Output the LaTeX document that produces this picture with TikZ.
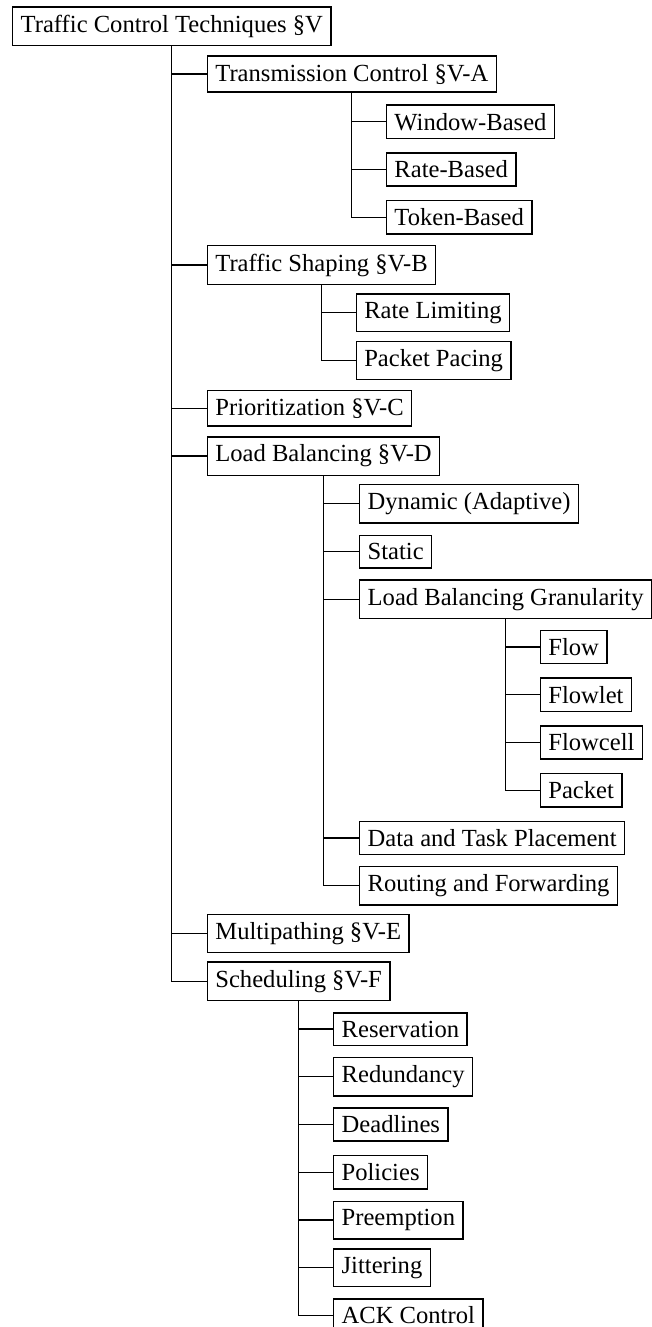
\documentclass[tikz,border=0pt]{standalone}
\usepackage{fontspec}
\setmainfont{Liberation Serif}
\usepackage{tikz}
\tikzstyle{NodeTree}=[draw,line width=0.6pt,anchor=west,inner sep=0.3333em,
font=\fontsize{10.25pt}{12pt}\selectfont]
\tikzstyle{EdgeTree}=[line width=0.5pt]
\begin{document}
\begin{tikzpicture}[x=0.4167pt,y=-19.9pt]
        \useasboundingbox(0,-0.551)rectangle(652,27.24);
        \node[NodeTree](tct)at(12,0){Traffic Control Techniques §V};
        \node[NodeTree](tc)at(206.7,1){Transmission Control §V-A};
        \node[NodeTree](wb)at(385.8,2){Window-Based};
        \node[NodeTree](rb)at(385.8,3){Rate-Based};
        \node[NodeTree](tb)at(385.8,4){Token-Based};
        \node[NodeTree](ts)at(206.7,5){Traffic Shaping §V-B};
        \node[NodeTree](rl)at(355.6,6){Rate Limiting};
        \node[NodeTree](pp)at(355.6,7){Packet Pacing};
        \node[NodeTree](pr)at(206.7,8){Prioritization §V-C};
        \node[NodeTree](lb)at(206.7,9){Load Balancing §V-D};
        \node[NodeTree](dy)at(359,10){Dynamic (Adaptive)};
        \node[NodeTree](st)at(359,11){Static};
        \node[NodeTree](lbg)at(359,12){Load Balancing Granularity};
        \node[NodeTree](fl)at(539.7,13){Flow};
        \node[NodeTree](flt)at(539.7,14){Flowlet};
        \node[NodeTree](flc)at(539.7,15){Flowcell};
        \node[NodeTree](pk)at(539.7,16){Packet};
        \node[NodeTree](dtp)at(359,17){Data and Task Placement};
        \node[NodeTree](rf)at(359,18){Routing and Forwarding};
        \node[NodeTree](mp)at(206.7,19){Multipathing §V-E};
        \node[NodeTree](sc)at(206.7,20){Scheduling §V-F};
        \node[NodeTree](re)at(333,21){Reservation};
        \node[NodeTree](rd)at(333,22){Redundancy};
        \node[NodeTree](dl)at(333,23){Deadlines};
        \node[NodeTree](po)at(333,24){Policies};
        \node[NodeTree](pe)at(333,25){Preemption};
        \node[NodeTree](ji)at(333,26){Jittering};
        \node[NodeTree](ack)at(333,27){ACK Control};
        \draw[EdgeTree](tct.south)|-(tc.west);
        \draw[EdgeTree](tct.south)|-(ts.west);
        \draw[EdgeTree](tct.south)|-(pr.west);
        \draw[EdgeTree](tct.south)|-(lb.west);
        \draw[EdgeTree](tct.south)|-(mp.west);
        \draw[EdgeTree](tct.south)|-(sc.west);
        \draw[EdgeTree](tc.south)|-(wb.west);
        \draw[EdgeTree](tc.south)|-(rb.west);
        \draw[EdgeTree](tc.south)|-(tb.west);
        \draw[EdgeTree](ts.south)|-(rl.west);
        \draw[EdgeTree](ts.south)|-(pp.west);
        \draw[EdgeTree](lb.south)|-(dy.west);
        \draw[EdgeTree](lb.south)|-(st.west);
        \draw[EdgeTree](lb.south)|-(lbg.west);
        \draw[EdgeTree](lb.south)|-(dtp.west);
        \draw[EdgeTree](lb.south)|-(rf.west);
        \draw[EdgeTree](lbg.south)|-(fl.west);
        \draw[EdgeTree](lbg.south)|-(flt.west);
        \draw[EdgeTree](lbg.south)|-(flc.west);
        \draw[EdgeTree](lbg.south)|-(pk.west);
        \draw[EdgeTree](sc.south)|-(re.west);
        \draw[EdgeTree](sc.south)|-(rd.west);
        \draw[EdgeTree](sc.south)|-(dl.west);
        \draw[EdgeTree](sc.south)|-(po.west);
        \draw[EdgeTree](sc.south)|-(pe.west);
        \draw[EdgeTree](sc.south)|-(ji.west);
        \draw[EdgeTree](sc.south)|-(ack.west);
    \end{tikzpicture}
\end{document}
